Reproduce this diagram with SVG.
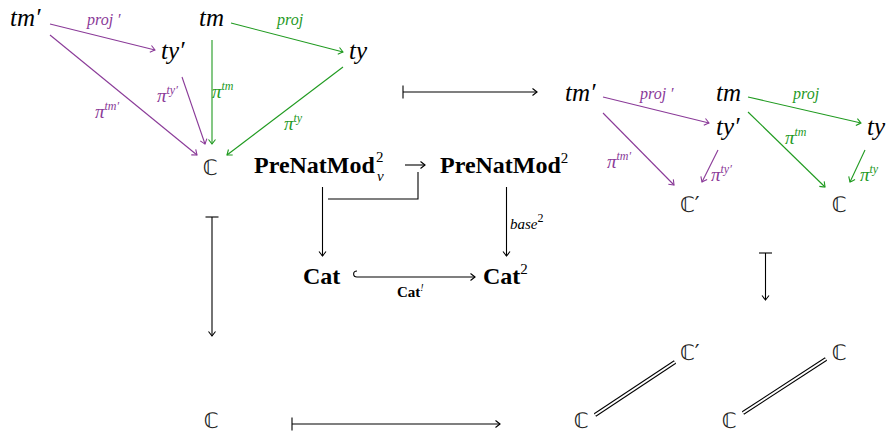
<svg xmlns="http://www.w3.org/2000/svg" width="887" height="433" viewBox="0 0 887 433">
<style>
.m{font-family:"Liberation Serif","DejaVu Serif",serif;font-style:italic;font-size:25px;fill:#000}
.bb{font-family:"DejaVu Sans",sans-serif;font-size:21px;fill:#222}
.bf{font-family:"Liberation Serif",serif;font-weight:bold;font-size:24px;fill:#000}
.sm{font-family:"Liberation Serif",serif;font-size:15px;fill:#000}
.lp{font-family:"Liberation Serif",serif;font-style:italic;font-size:16px;fill:#8a3a98}
.lg{font-family:"Liberation Serif",serif;font-style:italic;font-size:16px;fill:#1f9a1f}
.pi{font-size:19px}
.sup{font-size:12px}
.ep{stroke:#8a3a98;stroke-width:1.1;fill:none;marker-end:url(#ap)}
.eg{stroke:#1f9a1f;stroke-width:1.1;fill:none;marker-end:url(#ag)}
.ek{stroke:#000;stroke-width:1.1;fill:none;marker-end:url(#ak)}
.mt{marker-start:url(#bar)}
.dbl1{stroke:#000;stroke-width:4;fill:none}
.dbl2{stroke:#fff;stroke-width:2;fill:none}
</style>
<defs>
<marker id="ap" markerUnits="userSpaceOnUse" markerWidth="10" markerHeight="10" orient="auto" overflow="visible"><path d="M-4.5,-3.5 Q-1,-0.8 0,0 Q-1,0.8 -4.5,3.5" fill="none" stroke="#8a3a98" stroke-width="1.1"/></marker>
<marker id="ag" markerUnits="userSpaceOnUse" markerWidth="10" markerHeight="10" orient="auto" overflow="visible"><path d="M-4.5,-3.5 Q-1,-0.8 0,0 Q-1,0.8 -4.5,3.5" fill="none" stroke="#1f9a1f" stroke-width="1.1"/></marker>
<marker id="ak" markerUnits="userSpaceOnUse" markerWidth="10" markerHeight="10" orient="auto" overflow="visible"><path d="M-4.5,-3.5 Q-1,-0.8 0,0 Q-1,0.8 -4.5,3.5" fill="none" stroke="#000" stroke-width="1.1"/></marker>
<marker id="bar" markerUnits="userSpaceOnUse" markerWidth="10" markerHeight="14" orient="auto" overflow="visible"><path d="M0,-6.5 L0,6.5" fill="none" stroke="#000" stroke-width="1.1"/></marker>
</defs>

<g id="connectors">
  <!-- top-left diagram -->
  <line class="ep" x1="50" y1="24" x2="155" y2="50"/>
  <line class="ep" x1="50" y1="35" x2="197" y2="155"/>
  <line class="ep" x1="182" y1="77" x2="205" y2="144"/>
  <line class="eg" x1="212" y1="40" x2="212" y2="144"/>
  <line class="eg" x1="231" y1="23" x2="343" y2="52"/>
  <line class="eg" x1="343" y1="67" x2="227" y2="155"/>
  <!-- right top diagram -->
  <line class="ep" x1="603" y1="97" x2="709" y2="123"/>
  <line class="ep" x1="603" y1="113" x2="674" y2="185"/>
  <line class="ep" x1="718" y1="150" x2="702" y2="182"/>
  <line class="eg" x1="748" y1="97" x2="861" y2="123"/>
  <line class="eg" x1="748" y1="112" x2="825" y2="187"/>
  <line class="eg" x1="865" y1="150" x2="850" y2="182"/>
  <!-- maps-to arrows -->
  <line class="ek mt" x1="403" y1="92" x2="537" y2="92"/>
  <line class="ek mt" x1="212" y1="217" x2="212" y2="336"/>
  <line class="ek mt" x1="765.5" y1="253" x2="765.5" y2="300"/>
  <line class="ek mt" x1="292" y1="424" x2="500" y2="424"/>
  <!-- middle square -->
  <line class="ek" x1="405" y1="165" x2="425" y2="165"/>
  <path d="M328,199 L418,199 L418,172" fill="none" stroke="#000" stroke-width="1.1"/>
  <line class="ek" x1="322.5" y1="187" x2="322.5" y2="256"/>
  <line class="ek" x1="506.5" y1="187" x2="506.5" y2="256"/>
  <path class="ek" d="M357,271 C352.5,271 352.5,277 357,277 L475,277"/>
  <!-- identities (double lines) -->
  <line class="dbl1" x1="595" y1="415" x2="675" y2="362"/>
  <line class="dbl2" x1="595" y1="415" x2="675" y2="362"/>
  <line class="dbl1" x1="743" y1="413" x2="826" y2="359"/>
  <line class="dbl2" x1="743" y1="413" x2="826" y2="359"/>
</g>

<g id="edge-labels">
  <text class="lp" x="87" y="25">proj ′</text>
  <text class="lg" x="277" y="25">proj</text>
  <text class="lp" x="95" y="118"><tspan class="pi">π</tspan><tspan class="sup" dy="-8">tm′</tspan></text>
  <text class="lp" x="157" y="102"><tspan class="pi">π</tspan><tspan class="sup" dy="-8">ty′</tspan></text>
  <text class="lg" x="212" y="98"><tspan class="pi">π</tspan><tspan class="sup" dy="-8">tm</tspan></text>
  <text class="lg" x="284" y="130"><tspan class="pi">π</tspan><tspan class="sup" dy="-8">ty</tspan></text>

  <text class="lp" x="640" y="99">proj ′</text>
  <text class="lg" x="793" y="99">proj</text>
  <text class="lp" x="607" y="168"><tspan class="pi">π</tspan><tspan class="sup" dy="-8">tm′</tspan></text>
  <text class="lp" x="711" y="181"><tspan class="pi">π</tspan><tspan class="sup" dy="-8">ty′</tspan></text>
  <text class="lg" x="785" y="144"><tspan class="pi">π</tspan><tspan class="sup" dy="-8">tm</tspan></text>
  <text class="lg" x="860" y="181"><tspan class="pi">π</tspan><tspan class="sup" dy="-8">ty</tspan></text>

  <text class="sm" x="510" y="229" font-style="italic">base<tspan class="sup" dy="-7" font-style="normal">2</tspan></text>
  <text class="sm" x="397" y="297" font-weight="bold" font-size="13">Cat<tspan font-size="10" dy="-6" font-weight="normal" font-style="italic">!</tspan></text>
</g>

<g id="tl-tm-prime"><text class="m" x="10" y="26">tm′</text></g>
<g id="tl-tm"><text class="m" x="199" y="26">tm</text></g>
<g id="tl-ty-prime"><text class="m" x="161" y="59">ty′</text></g>
<g id="tl-ty"><text class="m" x="349" y="59">ty</text></g>
<g id="tl-C"><text class="bb" x="210" y="175" text-anchor="middle">ℂ</text></g>

<g id="prenatmod-v"><text class="bf" x="254" y="173">PreNatMod</text><text class="sm" x="376" y="162">2</text><text class="sm" x="377" y="181" font-size="14" font-style="italic">v</text></g>
<g id="prenatmod"><text class="bf" x="440" y="173">PreNatMod<tspan font-size="15" font-weight="normal" dy="-10">2</tspan></text></g>
<g id="cat"><text class="bf" x="303" y="284">Cat</text></g>
<g id="cat2"><text class="bf" x="483" y="284">Cat<tspan font-size="15" font-weight="normal" dy="-10">2</tspan></text></g>

<g id="tr-tm-prime"><text class="m" x="565" y="101">tm′</text></g>
<g id="tr-tm"><text class="m" x="716" y="101">tm</text></g>
<g id="tr-ty-prime"><text class="m" x="716" y="135">ty′</text></g>
<g id="tr-ty"><text class="m" x="867" y="135">ty</text></g>
<g id="tr-C-prime"><text class="bb" x="680" y="212">ℂ′</text></g>
<g id="tr-C"><text class="bb" x="839" y="212" text-anchor="middle">ℂ</text></g>

<g id="bl-C"><text class="bb" x="211" y="428" text-anchor="middle">ℂ</text></g>
<g id="br-C-prime"><text class="bb" x="680" y="360">ℂ′</text></g>
<g id="br-C-top"><text class="bb" x="839" y="360" text-anchor="middle">ℂ</text></g>
<g id="br-C-left"><text class="bb" x="581" y="428" text-anchor="middle">ℂ</text></g>
<g id="br-C-mid"><text class="bb" x="729" y="428" text-anchor="middle">ℂ</text></g>
</svg>
